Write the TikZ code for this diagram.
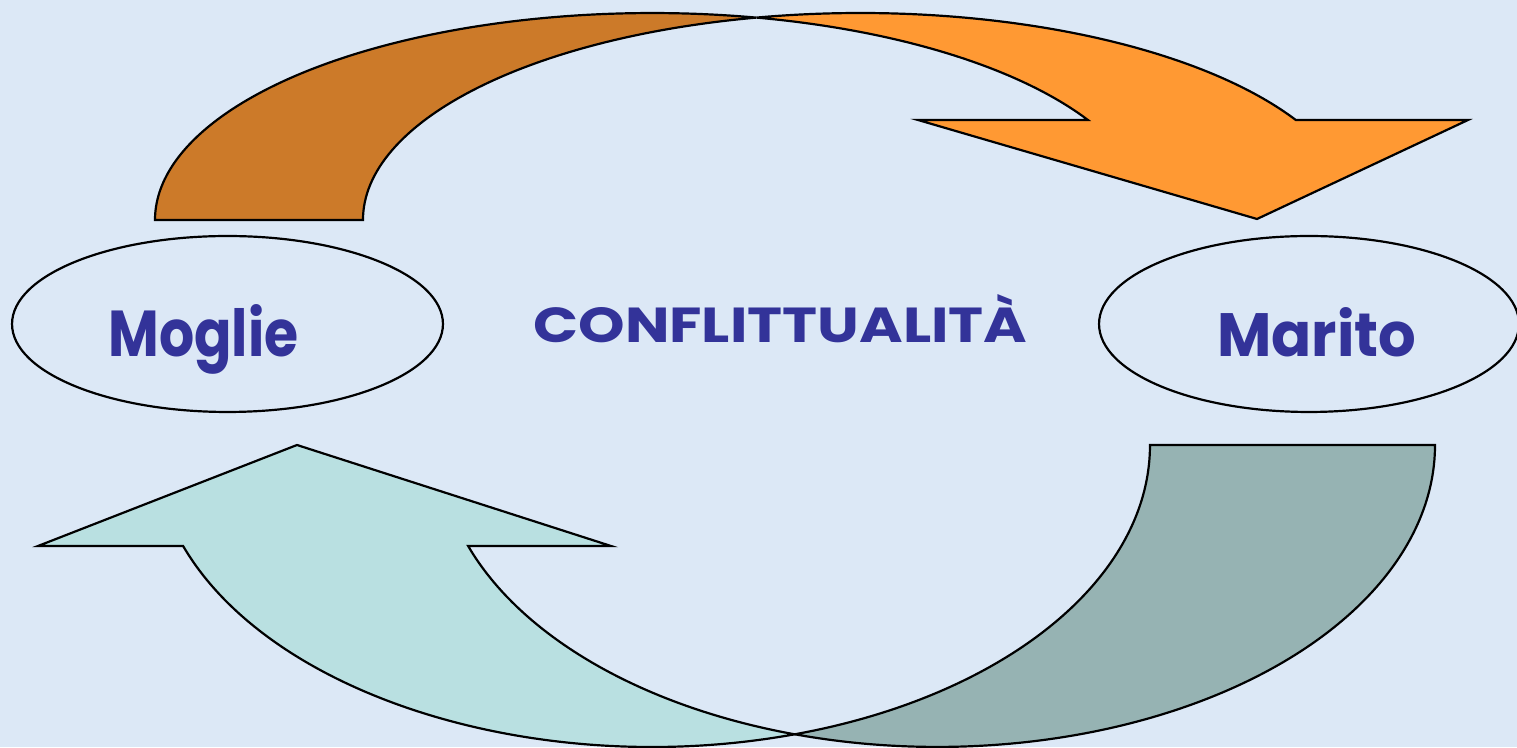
\documentclass[tikz,border=0pt]{standalone}
\usepackage{fontspec}
\setmainfont{Poppins}
\usetikzlibrary{shapes.geometric}
\definecolor{bgblue}{HTML}{DCE8F6}
\definecolor{darkor}{HTML}{CC7A29}
\definecolor{lightor}{HTML}{FF9933}
\definecolor{greyteal}{HTML}{96B3B3}
\definecolor{lightteal}{HTML}{B9E0E1}
\definecolor{txtblue}{HTML}{333399}
\begin{document}
\begin{tikzpicture}[x=0.02cm,y=0.02cm,
  band/.style={draw=black, line width=1.25pt, line join=miter},
  oval/.style={ellipse, draw=black, line width=1.25pt, inner sep=0pt},
  lbl/.style={text=txtblue, inner sep=0pt, anchor=base west, font=\bfseries}]
\useasboundingbox (0,0) rectangle (1517,747);
\fill[bgblue] (0,0) rectangle (1517,747);
% top arrow: dark back band
\filldraw[band, fill=darkor] (155,527)
  arc[start angle=180, end angle=77.93, x radius=9.948cm, y radius=4.14cm]
  arc[start angle=102.07, end angle=180, x radius=9.948cm, y radius=4.14cm]
  -- cycle;
% top arrow: light front band with head
\filldraw[band, fill=lightor] (756.4,729.4)
  arc[start angle=102.07, end angle=28.89, x radius=9.948cm, y radius=4.14cm]
  -- (1468,627) -- (1257,528) -- (918,627) -- (1087.9,627)
  arc[start angle=28.89, end angle=77.93, x radius=9.948cm, y radius=4.14cm]
  -- cycle;
% bottom arrow: grey back band
\filldraw[band, fill=greyteal] (1150,302) -- (1435,302)
  arc[start angle=0, end angle=-106.64, x radius=9.956cm, y radius=6.04cm]
  arc[start angle=-73.36, end angle=0, x radius=9.956cm, y radius=6.04cm]
  -- cycle;
% bottom arrow: light front band with head
\filldraw[band, fill=lightteal] (183.1,201)
  arc[start angle=199.54, end angle=286.64, x radius=9.956cm, y radius=6.04cm]
  arc[start angle=253.36, end angle=199.54, x radius=9.956cm, y radius=6.04cm]
  -- (611,201) -- (297,302) -- (38,201) -- cycle;
% ellipses
\node[oval, minimum width=8.62cm, minimum height=3.52cm] (moglieOval) at (227.5,423) {};
\node[oval, minimum width=8.40cm, minimum height=3.52cm] (maritoOval) at (1309,423) {};
% labels
\node[lbl] (moglie) at (108,390) {\resizebox{3.8cm}{1.04cm}{Moglie}};
\node[lbl] (marito) at (1217,390) {\resizebox{3.98cm}{0.98cm}{Marito}};
\node[lbl] (confl) at (533,404) {\resizebox{9.88cm}{0.96cm}{CONFLITTUALITÀ}};
\end{tikzpicture}
\end{document}
